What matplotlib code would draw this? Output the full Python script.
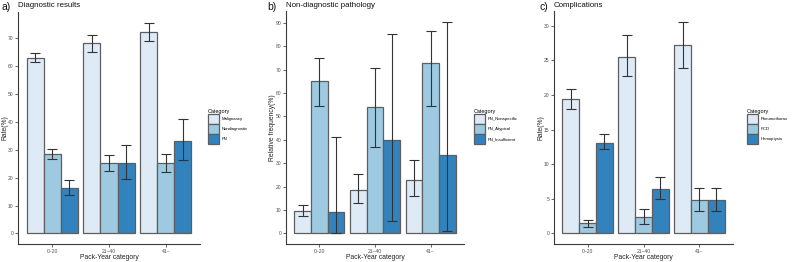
import matplotlib
matplotlib.use("Agg")
import matplotlib.pyplot as plt
from matplotlib.patches import Patch
import numpy as np

plt.rcParams['font.family'] = ['Liberation Sans', 'DejaVu Sans']

groups = ["0~20", "21~40", "41~"]
colors = ["#DEEBF7", "#9ECAE1", "#3182BD"]

# Panel a
a_cats = ["Malignancy", "Nondiagnostic", "FN"]
a_vals = [[62.9, 68.1, 72.3], [28.6, 25.4, 25.1], [16.4, 25.4, 33.3]]
a_lo = [[61.3, 64.9, 68.9], [26.8, 22.5, 22.1], [13.9, 19.6, 26.2]]
a_hi = [[64.6, 71.1, 75.6], [30.4, 28.3, 28.5], [19.0, 31.8, 41.1]]

# Panel b
b_cats = ["FN_Nonspecific", "FN_Atypical", "FN_Insufficient"]
b_vals = [[9.7, 18.7, 22.9], [65.1, 54.1, 72.6], [9.0, 39.9, 33.5]]
b_lo = [[7.3, 13.2, 16.0], [54.4, 36.8, 54.3], [0.0, 5.4, 1.0]]
b_hi = [[12.0, 25.5, 31.4], [74.8, 70.5, 86.6], [41.0, 85.2, 90.5]]

# Panel c
c_cats = ["Pneumothorax", "PCD", "Hemoptysis"]
c_vals = [[19.4, 25.5, 27.2], [1.44, 2.3, 4.8], [13.1, 6.4, 4.8]]
c_lo = [[18.0, 22.7, 23.9], [0.9, 1.4, 3.3], [12.2, 4.9, 3.3]]
c_hi = [[20.8, 28.6, 30.6], [1.9, 3.5, 6.5], [14.4, 8.1, 6.5]]

panels = [
    ("a)", "Diagnostic results", "Rate(%)", a_cats, a_vals, a_lo, a_hi,
     [0, 10, 20, 30, 40, 50, 60, 70], (18, 200, 12, 5, 208, 2)),
    ("b)", "Non-diagnostic pathology", "Relative frequency(%)", b_cats, b_vals, b_lo, b_hi,
     [0, 10, 20, 30, 40, 50, 60, 70, 80, 90], (286, 464, 11, 272, 474, 267)),
    ("c)", "Complications", "Rate(%)", c_cats, c_vals, c_lo, c_hi,
     [0, 5, 10, 15, 20, 25, 30], (554, 733, 11, 541, 747, 540)),
]

W, H = 796, 262
fig = plt.figure(figsize=(W / 100, H / 100), dpi=100)

edge = "#5e5e5e"
axc = "#3a3a3a"
tickc = "#4d4d4d"
BOT = 244

for lab, title, ylab, cats, vals, lo, hi, yt, (l, r, t, ylx, lgx, labx) in panels:
    ax = fig.add_axes([l / W, (H - BOT) / H, (r - l) / W, (BOT - t) / H])
    x = np.arange(len(groups))
    bw = 0.3
    for i, c in enumerate(cats):
        xs = x + (i - 1) * bw
        v = np.array(vals[i])
        ax.bar(xs, v, width=bw, color=colors[i], edgecolor=edge, linewidth=0.9, zorder=2)
        yerr = np.vstack([v - np.array(lo[i]), np.array(hi[i]) - v])
        ax.errorbar(xs, v, yerr=yerr, fmt='none', ecolor="#333333", elinewidth=0.8,
                    capsize=3.6, capthick=0.8, zorder=3)
    ymax = max(max(h) for h in hi)
    ax.set_ylim(-0.05 * ymax, 1.05 * ymax)
    ax.set_xlim(-0.6, 2.6)
    ax.set_xticks(x)
    ax.set_xticklabels(groups)
    ax.set_yticks(yt)
    for s in ["top", "right"]:
        ax.spines[s].set_visible(False)
    for s in ["left", "bottom"]:
        ax.spines[s].set_color(axc)
        ax.spines[s].set_linewidth(0.8)
    ax.tick_params(axis='both', colors=tickc, labelsize=3.6, length=2, width=0.6, pad=1.5)
    ax.set_ylabel(ylab, fontsize=4.9, color="#222222")
    ax.yaxis.set_label_coords(ylx / W, (H - (BOT + t) / 2) / H, transform=fig.transFigure)
    ax.set_xlabel("Pack-Year category", fontsize=4.9, color="#222222")
    ax.xaxis.set_label_coords(((l + r) / 2) / W, (H - 257.5) / H, transform=fig.transFigure)
    ax.xaxis.label.set_va('center')
    ax.yaxis.label.set_va('center')
    fig.text(l / W, (H - 5.5) / H, title, fontsize=5.7, color="#111111", ha='left', va='center')
    fig.text(labx / W, (H - 7) / H, lab, fontsize=7.5, color="#111111", ha='left', va='center')
    handles = [Patch(facecolor=colors[i], edgecolor=edge, linewidth=0.9, label=c)
               for i, c in enumerate(cats)]
    leg = fig.legend(handles=handles, title="Category", loc='upper left',
                     bbox_to_anchor=(lgx / W, (H - 108.5) / H), frameon=False,
                     fontsize=3.1, title_fontsize=4.0, handlelength=2.6, handleheight=3.3,
                     handletextpad=0.5, labelspacing=0.0, borderaxespad=0, borderpad=0)
    leg._legend_box.align = "left"

fig.savefig("out.png", dpi=100)
